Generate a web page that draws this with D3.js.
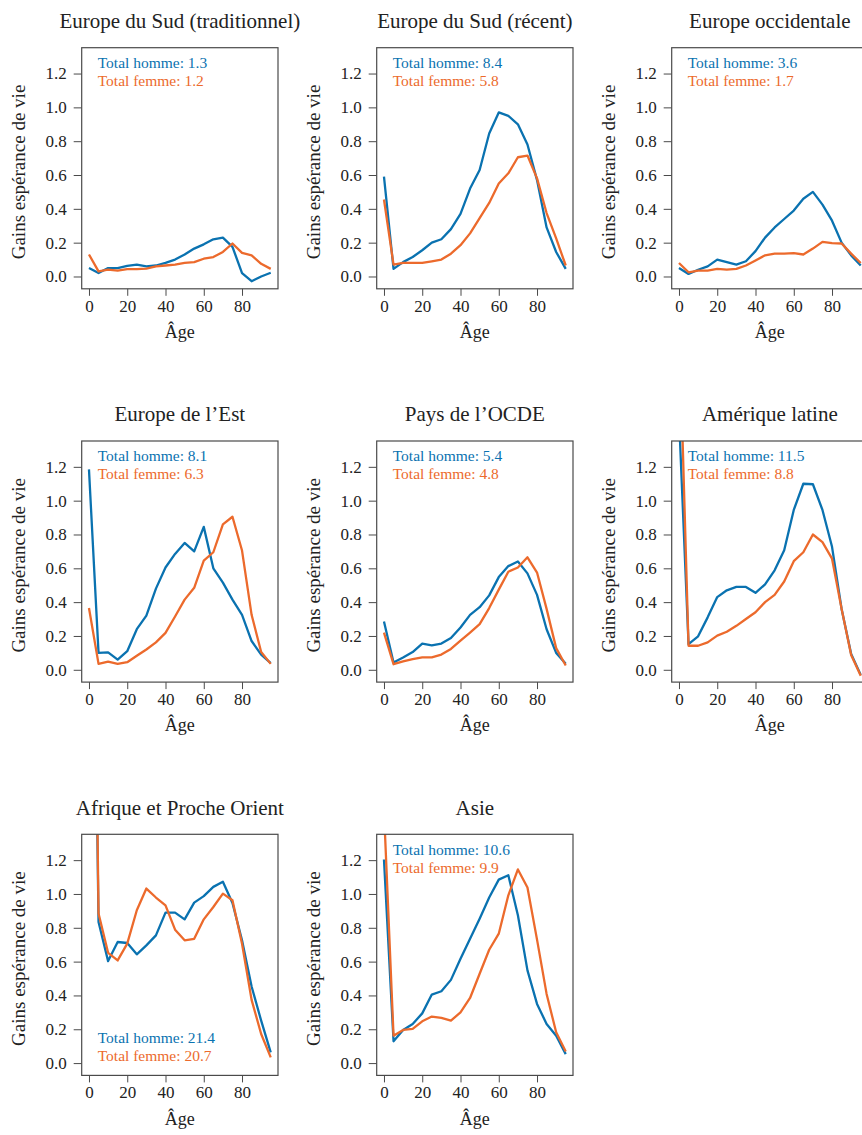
<!DOCTYPE html>
<html>
<head>
<meta charset="utf-8">
<script src="https://cdn.jsdelivr.net/npm/d3@7"></script>
<style>
  body { margin: 0; background: #fff; }
  svg { display: block; font-family: "Liberation Serif", "Times New Roman", serif; }
</style>
</head>
<body>
<svg id="chart" width="862" height="1135"></svg>
<script>
// age groups (5-year steps)
const ages = [0, 5, 10, 15, 20, 25, 30, 35, 40, 45, 50, 55, 60, 65, 70, 75, 80, 85, 90, 95]

const regions = [
  "Europe du Sud (traditionnel)", "Europe du Sud (récent)", "Europe occidentale",
  "Europe de l\u2019Est", "Pays de l\u2019OCDE", "Amérique latine",
  "Afrique et Proche Orient", "Asie"
]

const hommeTotals = ["1.3", "8.4", "3.6", "8.1", "5.4", "11.5", "21.4", "10.6"]
const femmeTotals = ["1.2", "5.8", "1.7", "6.3", "4.8", "8.8", "20.7", "9.9"]

const hommeValues = [
  [0.05, 0.02, 0.05, 0.05, 0.063, 0.07, 0.06, 0.065, 0.08, 0.1, 0.13, 0.165, 0.19, 0.22, 0.23, 0.175, 0.02, -0.028, 0.0, 0.022],
  [0.59, 0.045, 0.085, 0.115, 0.155, 0.2, 0.22, 0.28, 0.37, 0.52, 0.63, 0.845, 0.97, 0.95, 0.9, 0.78, 0.57, 0.29, 0.145, 0.045],
  [0.05, 0.015, 0.04, 0.06, 0.1, 0.085, 0.07, 0.09, 0.15, 0.23, 0.29, 0.34, 0.39, 0.46, 0.5, 0.425, 0.33, 0.2, 0.125, 0.065],
  [1.185, 0.1, 0.103, 0.06, 0.11, 0.24, 0.32, 0.48, 0.605, 0.685, 0.75, 0.7, 0.845, 0.6, 0.515, 0.415, 0.325, 0.17, 0.09, 0.04],
  [0.285, 0.043, 0.073, 0.105, 0.155, 0.145, 0.155, 0.188, 0.25, 0.325, 0.37, 0.44, 0.548, 0.613, 0.64, 0.57, 0.443, 0.24, 0.1, 0.035],
  [1.5, 0.152, 0.198, 0.31, 0.43, 0.47, 0.49, 0.49, 0.455, 0.505, 0.588, 0.707, 0.945, 1.1, 1.097, 0.945, 0.727, 0.36, 0.093, -0.03],
  [5.0, 0.834, 0.603, 0.716, 0.71, 0.643, 0.696, 0.755, 0.89, 0.89, 0.85, 0.949, 0.987, 1.042, 1.072, 0.947, 0.726, 0.453, 0.251, 0.063],
  [1.204, 0.129, 0.196, 0.231, 0.294, 0.405, 0.425, 0.492, 0.617, 0.735, 0.854, 0.979, 1.085, 1.111, 0.874, 0.548, 0.35, 0.231, 0.162, 0.053]
]

const femmeValues = [
  [0.13, 0.03, 0.04, 0.035, 0.043, 0.043, 0.047, 0.06, 0.065, 0.07, 0.08, 0.085, 0.105, 0.115, 0.145, 0.195, 0.14, 0.125, 0.075, 0.045],
  [0.455, 0.07, 0.08, 0.08, 0.08, 0.09, 0.1, 0.135, 0.185, 0.255, 0.345, 0.435, 0.55, 0.61, 0.705, 0.715, 0.58, 0.375, 0.225, 0.065],
  [0.08, 0.025, 0.035, 0.035, 0.045, 0.04, 0.045, 0.065, 0.095, 0.125, 0.135, 0.135, 0.138, 0.13, 0.165, 0.205, 0.197, 0.195, 0.135, 0.08],
  [0.365, 0.035, 0.048, 0.035, 0.045, 0.083, 0.12, 0.162, 0.218, 0.315, 0.415, 0.485, 0.645, 0.695, 0.86, 0.905, 0.705, 0.325, 0.105, 0.035],
  [0.22, 0.033, 0.05, 0.063, 0.073, 0.073, 0.09, 0.123, 0.172, 0.22, 0.27, 0.365, 0.474, 0.58, 0.605, 0.665, 0.575, 0.36, 0.128, 0.025],
  [2.1, 0.142, 0.142, 0.162, 0.202, 0.225, 0.26, 0.3, 0.34, 0.4, 0.443, 0.522, 0.642, 0.695, 0.8, 0.755, 0.657, 0.36, 0.087, -0.035],
  [5.5, 0.884, 0.652, 0.607, 0.706, 0.904, 1.032, 0.979, 0.933, 0.789, 0.726, 0.735, 0.85, 0.923, 1.002, 0.963, 0.706, 0.374, 0.172, 0.034],
  [1.5, 0.162, 0.196, 0.202, 0.247, 0.275, 0.267, 0.251, 0.3, 0.385, 0.528, 0.67, 0.765, 0.992, 1.145, 1.038, 0.73, 0.409, 0.182, 0.069]
]

// legend placed at the bottom for this panel
const legendBottom = [false, false, false, false, false, false, true, false]

const xTicks = [0, 20, 40, 60, 80]
const yTicks = [0.0, 0.2, 0.4, 0.6, 0.8, 1.0, 1.2]

const colors = { homme: "#0a72b0", femme: "#ec6a2c", text: "#222", axis: "#4a4a4a" }

const box = { left: 81.7, right: 278, top: 47.7, bottom: 288.8 }
const colStep = 295
const rowStep = 393.3

const svg = d3.select("#chart")

const x = d3.scaleLinear().domain([-3.8, 98.8]).range([box.left, box.right])
const y = d3.scaleLinear().domain([-0.0728, 1.3528]).range([box.bottom, box.top])

const line = d3.line()
  .x(function(d) { return x(d[0]) })
  .y(function(d) { return y(d[1]) })

regions.forEach(function(name, i) {
  const col = i % 3
  const row = Math.floor(i / 3)
  const g = svg.append("g")
    .attr("transform", "translate(" + (col * colStep) + "," + (row * rowStep) + ")")

  g.append("text")
    .attr("x", (box.left + box.right) / 2)
    .attr("y", 28)
    .attr("text-anchor", "middle")
    .attr("font-size", "21px")
    .attr("fill", colors.text)
    .text(name)

  // x axis
  const xa = g.append("g")
    .attr("transform", "translate(0," + box.bottom + ")")
    .call(d3.axisBottom(x).tickValues(xTicks).tickSize(7).tickSizeOuter(0).tickPadding(4))
  xa.select(".domain").remove()
  xa.selectAll("line").attr("stroke", colors.axis)
  xa.selectAll("text")
    .attr("font-family", "Liberation Serif")
    .attr("font-size", "17px")
    .attr("fill", colors.text)

  // y axis
  const ya = g.append("g")
    .attr("transform", "translate(" + box.left + ",0)")
    .call(d3.axisLeft(y).tickValues(yTicks).tickFormat(d3.format(".1f")).tickSize(8).tickSizeOuter(0).tickPadding(7))
  ya.select(".domain").remove()
  ya.selectAll("line").attr("stroke", colors.axis)
  ya.selectAll("text")
    .attr("font-family", "Liberation Serif")
    .attr("font-size", "17px")
    .attr("fill", colors.text)

  g.append("text")
    .attr("transform", "translate(24.5," + 172 + ") rotate(-90)")
    .attr("text-anchor", "middle")
    .attr("font-size", "19px")
    .attr("fill", colors.text)
    .text("Gains espérance de vie")

  g.append("text")
    .attr("x", (box.left + box.right) / 2)
    .attr("y", 338)
    .attr("text-anchor", "middle")
    .attr("font-size", "18px")
    .attr("fill", colors.text)
    .text("Âge")

  const clipId = "clip" + i
  g.append("clipPath").attr("id", clipId)
    .append("rect")
    .attr("x", box.left).attr("y", box.top)
    .attr("width", box.right - box.left).attr("height", box.bottom - box.top)

  const lines = g.append("g").attr("clip-path", "url(#" + clipId + ")")
  lines.append("path")
    .datum(ages.map(function(a, k) { return [a, hommeValues[i][k]] }))
    .attr("d", line)
    .attr("fill", "none")
    .attr("stroke", colors.homme)
    .attr("stroke-width", 2.3)
    .attr("stroke-linejoin", "round")
  lines.append("path")
    .datum(ages.map(function(a, k) { return [a, femmeValues[i][k]] }))
    .attr("d", line)
    .attr("fill", "none")
    .attr("stroke", colors.femme)
    .attr("stroke-width", 2.3)
    .attr("stroke-linejoin", "round")

  g.append("rect")
    .attr("x", box.left).attr("y", box.top)
    .attr("width", box.right - box.left).attr("height", box.bottom - box.top)
    .attr("fill", "none")
    .attr("stroke", colors.axis)
    .attr("stroke-width", 1.2)

  const ly = legendBottom[i] ? 256.5 : 68
  g.append("text")
    .attr("x", 97.7).attr("y", ly)
    .attr("font-size", "15.5px")
    .attr("fill", colors.homme)
    .text("Total homme: " + hommeTotals[i])
  g.append("text")
    .attr("x", 97.7).attr("y", ly + 18)
    .attr("font-size", "15.5px")
    .attr("fill", colors.femme)
    .text("Total femme: " + femmeTotals[i])
})
</script>
</body>
</html>
